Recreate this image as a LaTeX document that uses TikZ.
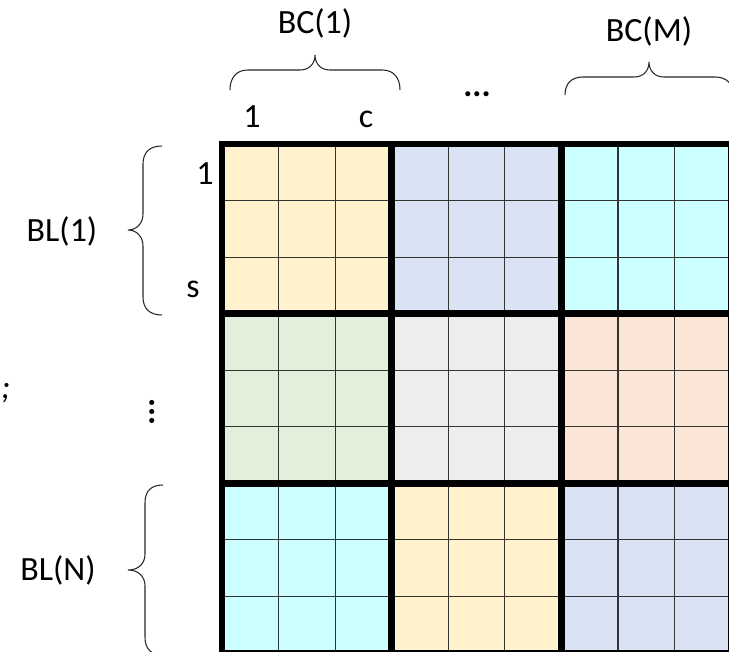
\documentclass[tikz,border=0pt]{standalone}
\usepackage{fontspec}
\setmainfont{Carlito}
\usepackage{xcolor}
\usepackage{tikz}
\usetikzlibrary{positioning, calc}
\definecolor{F_YEL}{HTML}{FFF2CC}
\definecolor{F_BLU}{HTML}{DAE3F3}
\definecolor{F_CYN}{HTML}{CCFFFF}
\definecolor{F_GRN}{HTML}{E2EFDA}
\definecolor{F_GRY}{HTML}{EDEDED}
\definecolor{F_PCH}{HTML}{FBE5D6}
\tikzset{
  %% -- thin line between cells --
  grid/cell/.style={draw=black!80, line width=0.9pt},
  %% -- heavy line between blocks --
  grid/block/.style={draw=black, line width=5.5pt, line cap=rect},
  %% -- curly brace --
  grid/brace/.style={draw=black!85, line width=0.9pt},
  %% -- labels --
  grid/lbl/.style={font=\fontsize{29}{33}\selectfont, inner sep=0pt},
}

\begin{document}
\begin{tikzpicture}[
  x=0.03cm, y=-0.03cm,
]
\useasboundingbox (0,0) rectangle (729,652);

%% ━━━━━━━━━━━━━━━━━━━━━━━━━━━━━━━━━━━━━━━━━━━━━━━━━━━━━━━━━━━━━━━━━━━━━
%%  MATRIX — N x M blocks of s x c cells
%% ━━━━━━━━━━━━━━━━━━━━━━━━━━━━━━━━━━━━━━━━━━━━━━━━━━━━━━━━━━━━━━━━━━━━━
\pgfmathsetmacro{\gx}{222}    %% left edge
\pgfmathsetmacro{\gy}{144}    %% top edge
\pgfmathsetmacro{\bw}{169.7}  %% block size
\pgfmathsetmacro{\cw}{\bw/3}  %% cell size

%% Block fills
\foreach \r/\c/\col in {0/0/F_YEL, 0/1/F_BLU, 0/2/F_CYN,
                        1/0/F_GRN, 1/1/F_GRY, 1/2/F_PCH,
                        2/0/F_CYN, 2/1/F_YEL, 2/2/F_BLU}
  \fill[\col] (\gx+\c*\bw, \gy+\r*\bw) rectangle ++(\bw,\bw);

%% Cell lines
\foreach \i in {1,2,4,5,7,8} {
  \draw[grid/cell] (\gx+\i*\cw, \gy) -- ++(0,3*\bw);
  \draw[grid/cell] (\gx, \gy+\i*\cw) -- ++(3*\bw,0);
}

%% Block lines
\foreach \i in {0,...,3} {
  \draw[grid/block] (\gx+\i*\bw, \gy) -- ++(0,3*\bw);
  \draw[grid/block] (\gx, \gy+\i*\bw) -- ++(3*\bw,0);
}

%% ━━━━━━━━━━━━━━━━━━━━━━━━━━━━━━━━━━━━━━━━━━━━━━━━━━━━━━━━━━━━━━━━━━━━━
%%  COLUMN BLOCKS (top)
%% ━━━━━━━━━━━━━━━━━━━━━━━━━━━━━━━━━━━━━━━━━━━━━━━━━━━━━━━━━━━━━━━━━━━━━
\node[grid/lbl, anchor=base] (bcFirst) at (315,34) {BC(1)};
\node[grid/lbl, anchor=base] (bcLast)  at (649,42) {BC(M)};

%% Brace over BC(1)
\draw[grid/brace] (230,90) .. controls (230,78) and (236,70) .. (248,70)
  -- (300,70) .. controls (309,70) and (315,64) .. (315,55)
  .. controls (315,64) and (321,70) .. (330,70)
  -- (382,70) .. controls (394,70) and (400,78) .. (400,90);

%% Brace over BC(M)
\draw[grid/brace] (565,95) .. controls (565,84) and (571,77) .. (583,77)
  -- (634,77) .. controls (643,77) and (649,71) .. (649,62)
  .. controls (649,71) and (655,77) .. (664,77)
  -- (715,77) .. controls (727,77) and (733,84) .. (733,95);

%% Column dots
\node[grid/lbl, anchor=base] (hdots) at (477,97) {\textbf{...}};

%% Column index inside a block
\node[grid/lbl, anchor=base] (colFirst) at (252,128) {1};
\node[grid/lbl, anchor=base] (colLast)  at (366,128) {c};

%% ━━━━━━━━━━━━━━━━━━━━━━━━━━━━━━━━━━━━━━━━━━━━━━━━━━━━━━━━━━━━━━━━━━━━━
%%  ROW BLOCKS (left)
%% ━━━━━━━━━━━━━━━━━━━━━━━━━━━━━━━━━━━━━━━━━━━━━━━━━━━━━━━━━━━━━━━━━━━━━
\node[grid/lbl, anchor=base] (blFirst) at (62,242) {BL(1)};
\node[grid/lbl, anchor=base] (blLast)  at (58,580) {BL(N)};

%% Brace beside BL(1)
\draw[grid/brace] (162,146) .. controls (150,146) and (143,152) .. (143,164)
  -- (143,214) .. controls (143,223) and (137,230) .. (128,230)
  .. controls (137,230) and (143,237) .. (143,246)
  -- (143,297) .. controls (143,309) and (150,315) .. (162,315);

%% Brace beside BL(N)
\draw[grid/brace] (163,485) .. controls (151,485) and (145,491) .. (145,503)
  -- (145,554) .. controls (145,563) and (139,570) .. (128,570)
  .. controls (139,570) and (145,577) .. (145,586)
  -- (145,637) .. controls (145,649) and (151,655) .. (163,655);

%% Row dots
\node[grid/lbl, rotate=90] (vdots) at (152,412) {\textbf{...}};

%% Row index inside a block
\node[grid/lbl, anchor=base] (rowFirst) at (205,185) {1};
\node[grid/lbl, anchor=base] (rowLast)  at (193,297) {s};

%% Mark at the left edge
\node[grid/lbl, anchor=base west] (semi) at (1,398) {\textit{;}};

\end{tikzpicture}
\end{document}
